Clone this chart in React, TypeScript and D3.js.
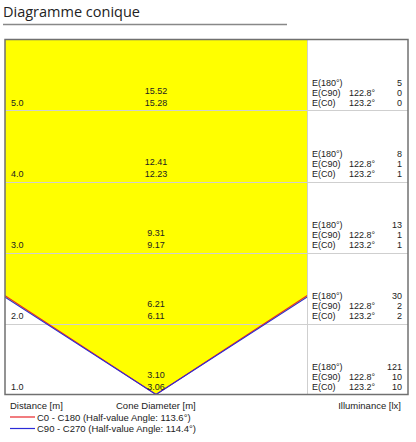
import React from "react";
import * as d3 from "d3";

const distances = [1, 2, 3, 4, 5];
const distanceLabels = ["1.0", "2.0", "3.0", "4.0", "5.0"];
const diamC90 = ["3.10", "6.21", "9.31", "12.41", "15.52"];
const diamC0 = ["3.06", "6.11", "9.17", "12.23", "15.28"];
const e180 = [121, 30, 13, 8, 5];
const eC90 = [10, 2, 1, 1, 0];
const eC0 = [10, 2, 1, 1, 0];
const angleC90 = "122.8°";
const angleC0 = "123.2°";
const series = [
  { name: "C0 - C180 (Half-value Angle: 113.6°)", angle: 113.6, color: "#e8262b" },
  { name: "C90 - C270 (Half-value Angle: 114.4°)", angle: 114.4, color: "#2b2bd8" },
];

const W = 416, H = 442;
const top = 39.5, bottom = 394.5, left = 5, right = 307, panelRight = 408;
const FONT = "'Liberation Sans', Arial, sans-serif";
const TXT = "#222";

export default function App() {
  const dMax = 5;
  const y = d3.scaleLinear().domain([0, dMax]).range([bottom, top]);
  const pxPerM = (bottom - top) / dMax;
  const halfW = (right - left) / 2 / pxPerM;
  const x = d3.scaleLinear().domain([-halfW, halfW]).range([left, right]);
  const line = d3.line<[number, number]>().x((p) => x(p[0])).y((p) => y(p[1]));

  const coneFor = (angle: number): [number, number][] => {
    const t = Math.tan(((angle / 2) * Math.PI) / 180);
    return [[-dMax * t, dMax], [0, 0], [dMax * t, dMax]];
  };
  const wide = coneFor(Math.max(...series.map((s) => s.angle)));

  return (
    <div style={{ position: "absolute", left: 0, top: 0 }}>
      <svg width={W} height={H} style={{ display: "block" }}>
        <defs>
          <clipPath id="plotClip">
            <rect x={left} y={top} width={right - left} height={bottom - top} />
          </clipPath>
        </defs>
        <text x={3} y={17} fontFamily="'Open Sans', sans-serif" fontSize={14.5} fill="#222">
          Diagramme conique
        </text>
        <line x1={3} x2={287} y1={24.5} y2={24.5} stroke="#888" strokeWidth={1.5} />

        <rect x={left} y={top} width={panelRight - left} height={bottom - top} fill="#fff" />
        <g clipPath="url(#plotClip)">
          <path d={line(wide) + "Z"} fill="#ffff00" />
        </g>
        {distances.slice(0, -1).map((d) => (
          <line key={d} x1={left} x2={panelRight} y1={Math.round(y(d)) + 0.5} y2={Math.round(y(d)) + 0.5} stroke="#cfcfcf" strokeWidth={1} />
        ))}
        <line x1={right + 0.5} x2={right + 0.5} y1={top} y2={bottom} stroke="#cfcfcf" />
        <g clipPath="url(#plotClip)">
          {series.map((s) => (
            <path key={s.name} d={line(coneFor(s.angle)) || ""} fill="none" stroke={s.color} strokeWidth={1.1} />
          ))}
        </g>
        <rect x={left} y={top} width={panelRight - left} height={bottom - top} fill="none" stroke="#707070" strokeWidth={1.5} />

        <g fontFamily={FONT} fontSize={9} fill={TXT}>
          {distances.map((d, i) => {
            const base = y(d - 1);
            return (
              <g key={d}>
                <text x={11} y={base - 4.5}>{distanceLabels[i]}</text>
                <text x={x(0)} y={base - 16.5} textAnchor="middle">{diamC90[i]}</text>
                <text x={x(0)} y={base - 5} textAnchor="middle">{diamC0[i]}</text>
                <text x={312} y={base - 25}>E(180°)</text>
                <text x={312} y={base - 14.8}>E(C90)</text>
                <text x={312} y={base - 4.5}>E(C0)</text>
                <text x={349} y={base - 14.8}>{angleC90}</text>
                <text x={349} y={base - 4.5}>{angleC0}</text>
                <text x={402} y={base - 25} textAnchor="end">{e180[i]}</text>
                <text x={402} y={base - 14.8} textAnchor="end">{eC90[i]}</text>
                <text x={402} y={base - 4.5} textAnchor="end">{eC0[i]}</text>
              </g>
            );
          })}
        </g>

        <g fontFamily={FONT} fontSize={9.5} fill={TXT}>
          <text x={10} y={408.5}>Distance [m]</text>
          <text x={116} y={408.5}>Cone Diameter [m]</text>
          <text x={401} y={408.5} textAnchor="end">Illuminance [lx]</text>
          {series.map((s, i) => (
            <g key={s.name}>
              <line x1={10} x2={35} y1={417 + i * 11.5} y2={417 + i * 11.5} stroke={s.color} strokeWidth={1.2} />
              <text x={37} y={420.5 + i * 11.5}>{s.name}</text>
            </g>
          ))}
        </g>
      </svg>
    </div>
  );
}
